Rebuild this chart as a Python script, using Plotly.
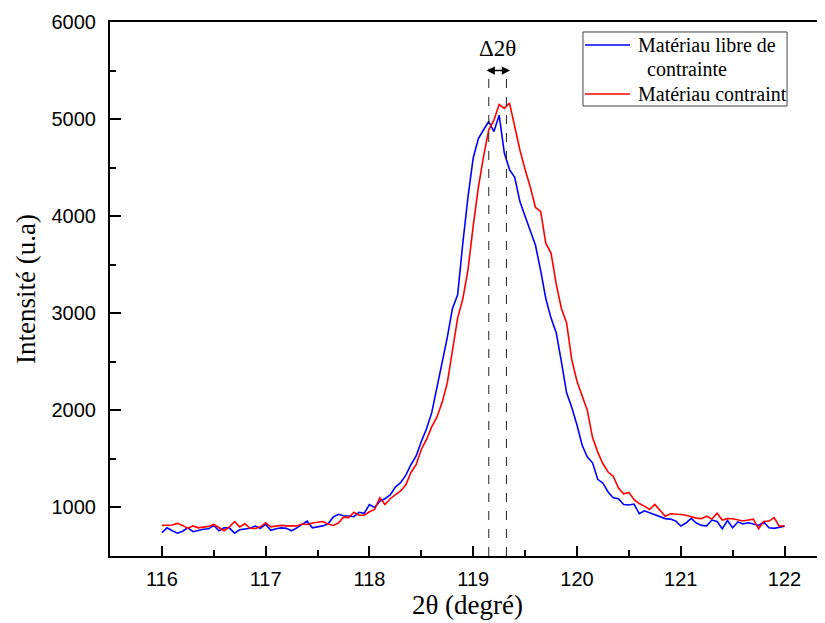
import plotly.graph_objects as go

x_vals = [round(116 + 0.05 * i, 2) for i in range(121)]

blue_vals = [
    740, 790, 760, 735, 755, 790, 750, 765, 775, 780,
    815, 760, 790, 790, 735, 770, 781, 785, 808, 785,
    825, 765, 780, 790, 785, 760, 790, 825, 859, 790,
    800, 810, 830, 900, 930, 915, 912, 905, 950, 940,
    1030, 1000, 1065, 1090, 1130, 1210, 1255, 1330, 1440, 1530,
    1680, 1810, 1974, 2230, 2500, 2750, 3050, 3190, 3724, 4200,
    4600, 4800, 4890, 4975, 4872, 5040, 4650, 4480, 4400, 4150,
    4000, 3860, 3700, 3440, 3150, 2950, 2800, 2500, 2180, 2030,
    1850, 1640, 1520, 1460, 1290, 1250, 1160, 1100, 1090, 1030,
    1025, 1035, 935, 965, 945, 918, 905, 885, 880, 860,
    808, 840, 887, 840, 815, 810, 870, 855, 780, 866,
    791, 850, 830, 843, 830, 815, 850, 790, 785, 795,
    808,
]

red_vals = [
    815, 815, 820, 836, 815, 785, 810, 790, 795, 805,
    825, 790, 760, 800, 855, 800, 832, 785, 784, 800,
    843, 800, 805, 815, 810, 808, 810, 830, 825, 840,
    850, 855, 830, 815, 840, 900, 895, 950, 920, 920,
    955, 980, 1100, 1031, 1090, 1130, 1170, 1230, 1360, 1440,
    1597, 1700, 1830, 1930, 2080, 2280, 2600, 2950, 3150, 3450,
    3900, 4300, 4615, 4890, 4990, 5150, 5110, 5164, 4924, 4680,
    4480, 4300, 4090, 4050, 3720, 3620, 3300, 3050, 2900, 2520,
    2300, 2150, 2000, 1720, 1570, 1450, 1365, 1320, 1200, 1140,
    1155, 1080, 1040, 1014, 979, 1031, 970, 910, 935, 935,
    928, 920, 905, 890, 885, 910, 880, 940, 870, 885,
    884, 875, 860, 870, 880, 781, 855, 860, 895, 805,
    815,
]

series_names = ["Matériau libre de", "contrainte", "Matériau contraint"]
series_colors = ["#0000FF", "#FF0000"]

peak_positions = [119.15, 119.32]
arrow_ends = [119.115, 119.355]
delta_label = "Δ2θ"
x_title = "2θ (degré)"
y_title = "Intensité (u.a)"

fig = go.Figure()
for vals, name, col in zip([blue_vals, red_vals],
                           [series_names[0] + " " + series_names[1], series_names[2]],
                           series_colors):
    fig.add_trace(go.Scatter(x=x_vals, y=vals, mode="lines", name=name,
                             line=dict(color=col, width=1.6), showlegend=False))

for p in peak_positions:
    fig.add_shape(type="line", x0=p, x1=p, y0=500, y1=5520, xref="x", yref="y",
                  line=dict(color="#222222", width=1, dash="dash"))

fig.add_annotation(x=arrow_ends[1], y=5500, ax=arrow_ends[0], ay=5500,
                   xref="x", yref="y", axref="x", ayref="y", text="",
                   showarrow=True, arrowhead=2, arrowside="end+start",
                   arrowsize=1.1, arrowwidth=1.5, arrowcolor="black", standoff=0, startstandoff=0)
fig.add_annotation(x=sum(peak_positions) / 2, y=5730, xref="x", yref="y", text=delta_label,
                   showarrow=False, font=dict(family="Liberation Serif", size=23, color="black"))

# manual legend (paper coordinates)
leg_font = dict(family="Liberation Serif", size=20, color="black")
fig.add_shape(type="rect", xref="paper", yref="paper", x0=0.6615, x1=0.9469, y0=0.8427, y1=0.9813,
              line=dict(color="#444444", width=1), fillcolor="white", layer="above")
fig.add_shape(type="line", xref="paper", yref="paper", x0=0.6643, x1=0.7273, y0=0.9569, y1=0.9569,
              line=dict(color=series_colors[0], width=1.6), layer="above")
fig.add_shape(type="line", xref="paper", yref="paper", x0=0.6643, x1=0.7273, y0=0.8652, y1=0.8652,
              line=dict(color=series_colors[1], width=1.6), layer="above")
fig.add_annotation(xref="paper", yref="paper", x=0.7357, y=0.9569, xanchor="left", yanchor="middle",
                   text=series_names[0], showarrow=False, font=leg_font)
fig.add_annotation(xref="paper", yref="paper", x=0.7483, y=0.9120, xanchor="left", yanchor="middle",
                   text=series_names[1], showarrow=False, font=leg_font)
fig.add_annotation(xref="paper", yref="paper", x=0.7357, y=0.8652, xanchor="left", yanchor="middle",
                   text=series_names[2], showarrow=False, font=leg_font)

axis_font = dict(family="Liberation Sans", size=20, color="black")
title_font = dict(family="Liberation Serif", size=27, color="black")

fig.update_xaxes(range=[115.5, 122.39], tickvals=[116, 117, 118, 119, 120, 121, 122],
                 ticks="inside", ticklen=10, tickwidth=2, tickcolor="black",
                 minor=dict(ticks="inside", ticklen=6, tickwidth=2, tickcolor="black", dtick=0.5, tick0=116),
                 showline=True, linewidth=2, linecolor="black", mirror=True,
                 showgrid=False, zeroline=False, tickfont=axis_font, ticklabelstandoff=4,
                 title=dict(text=x_title, font=title_font, standoff=4))
fig.update_yaxes(range=[500, 6000], tickvals=[1000, 2000, 3000, 4000, 5000, 6000],
                 ticks="inside", ticklen=11, tickwidth=2, tickcolor="black",
                 minor=dict(ticks="inside", ticklen=6, tickwidth=2, tickcolor="black", dtick=500, tick0=500),
                 showline=True, linewidth=2, linecolor="black",
                 showgrid=False, zeroline=False, tickfont=axis_font, ticklabelstandoff=8,
                 title=dict(text=y_title, font=title_font, standoff=8))

fig.update_layout(
    width=817, height=615,
    margin=dict(l=102, r=0, t=14, b=67, autoexpand=False),
    paper_bgcolor="white", plot_bgcolor="white",
    showlegend=False,
)

fig.write_html("out.html")
